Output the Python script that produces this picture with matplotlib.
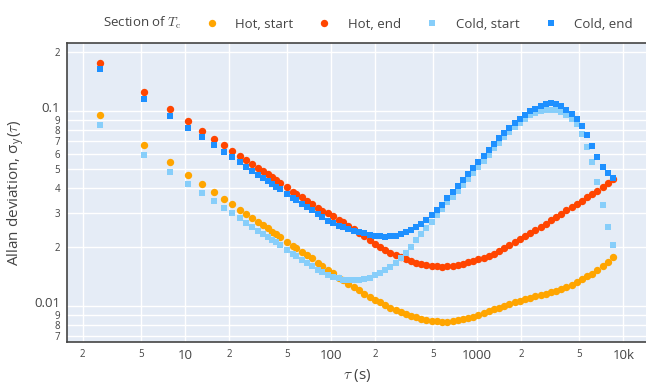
import numpy as np
import matplotlib
matplotlib.use("Agg")
import matplotlib.pyplot as plt
from matplotlib.transforms import ScaledTranslation

plt.rcParams['font.family'] = ['Open Sans', 'DejaVu Sans']
plt.rcParams['mathtext.fontset'] = 'cm'

# averaging factors (tau = m * tau0)
tau0 = 2.63
m = [1, 2, 3, 4, 5, 6, 7, 8, 9, 10, 11, 12, 13, 14, 15, 16, 17,
     19, 21, 22, 24, 26, 28, 31, 33, 36, 39,
     43, 46, 50, 55, 59, 64, 70, 76, 82, 89,
     97, 105, 114, 124, 134, 146, 158, 171, 186, 202,
     219, 238, 258, 280, 303, 329, 357, 387, 420, 456,
     495, 537, 582, 632, 686, 744, 807, 876, 950, 1031,
     1118, 1213, 1316, 1428, 1549, 1681, 1824, 1979, 2147, 2329,
     2527, 2742, 2975, 3228]

hot_start = [0.0951, 0.0668, 0.0544, 0.0470, 0.0419, 0.0382, 0.0354, 0.0331, 0.0311, 0.0295,
             0.0281, 0.0269, 0.0258, 0.0249, 0.0240, 0.0232, 0.0225,
             0.0213, 0.0202, 0.0197, 0.0189, 0.0181, 0.0175, 0.0166, 0.0160, 0.0153, 0.0147,
             0.0139, 0.0135, 0.0129, 0.0124, 0.0120, 0.01153, 0.01110, 0.01075, 0.01042, 0.01011,
             0.00979, 0.00953, 0.00928, 0.00907, 0.00888, 0.00872, 0.00859, 0.00847, 0.00838, 0.00832,
             0.00829, 0.00829, 0.00835, 0.00843, 0.00853, 0.00865, 0.00879, 0.00896, 0.00915, 0.00936,
             0.00957, 0.00979, 0.01001, 0.01023, 0.01042, 0.01061, 0.01080, 0.01099, 0.01117, 0.01135,
             0.01155, 0.01173, 0.01195, 0.01221, 0.01253, 0.01280, 0.01323, 0.01363, 0.01412, 0.01454,
             0.01524, 0.01598, 0.01680, 0.01773]

hot_end = [0.1763, 0.1246, 0.1018, 0.0881, 0.0788, 0.0719, 0.0666, 0.0624, 0.0588, 0.0557,
           0.0531, 0.0509, 0.0489, 0.0471, 0.0455, 0.0441, 0.0428,
           0.0404, 0.0385, 0.0376, 0.0360, 0.0346, 0.0333, 0.0318, 0.0307, 0.0300, 0.0288,
           0.0276, 0.0268, 0.0257, 0.0246, 0.0237, 0.0227, 0.0217, 0.0207, 0.0199, 0.0192,
           0.0186, 0.0182, 0.0177, 0.0173, 0.0169, 0.0166, 0.0164, 0.0161, 0.0160, 0.0159,
           0.0158, 0.0159, 0.0160, 0.0162, 0.0164, 0.0167, 0.0170, 0.0173, 0.0176, 0.0180,
           0.0185, 0.0191, 0.0198, 0.0204, 0.0211, 0.0219, 0.0227, 0.0236, 0.0245, 0.0254,
           0.0264, 0.0275, 0.0286, 0.0297, 0.0309, 0.0321, 0.0333, 0.0346, 0.0360, 0.0374,
           0.0388, 0.0407, 0.0424, 0.0444]

cold_start = [0.0842, 0.0595, 0.0486, 0.0421, 0.0377, 0.0344, 0.0318, 0.0298, 0.0281, 0.0266,
              0.0254, 0.0243, 0.0234, 0.0225, 0.0218, 0.0211, 0.0205,
              0.0193, 0.0184, 0.0180, 0.0172, 0.0166, 0.0160, 0.0152, 0.0149, 0.0144, 0.0141,
              0.0138, 0.0136, 0.0135, 0.0135, 0.0135, 0.0137, 0.0139, 0.0143, 0.0147, 0.0152,
              0.0158, 0.0165, 0.0175, 0.0187, 0.0201, 0.0217, 0.0233, 0.0250, 0.0270, 0.0292,
              0.0315, 0.0339, 0.0363, 0.0388, 0.0417, 0.0447, 0.0480, 0.0514, 0.0552, 0.0595,
              0.0642, 0.0687, 0.0733, 0.0779, 0.0822, 0.0870, 0.0909, 0.0947, 0.0975, 0.0994,
              0.1005, 0.1008, 0.1005, 0.0988, 0.0956, 0.0912, 0.0855, 0.0760, 0.0651, 0.0546,
              0.0431, 0.0328, 0.0254, 0.0205]

cold_end = [0.1631, 0.1152, 0.0940, 0.0814, 0.0729, 0.0666, 0.0615, 0.0576, 0.0543, 0.0515,
            0.0491, 0.0470, 0.0452, 0.0436, 0.0420, 0.0407, 0.0395,
            0.0374, 0.0355, 0.0347, 0.0332, 0.0319, 0.0308, 0.0294, 0.0285, 0.0273, 0.0265,
            0.0257, 0.0252, 0.0247, 0.0242, 0.0239, 0.0235, 0.0231, 0.0229, 0.0227, 0.0226,
            0.0227, 0.0229, 0.0232, 0.0238, 0.0244, 0.0253, 0.0264, 0.0276, 0.0292, 0.0310,
            0.0330, 0.0355, 0.0381, 0.0409, 0.0439, 0.0474, 0.0511, 0.0549, 0.0589, 0.0632,
            0.0679, 0.0724, 0.0773, 0.0820, 0.0865, 0.0907, 0.0951, 0.0991, 0.1026, 0.1057,
            0.1078, 0.1091, 0.1089, 0.1063, 0.1014, 0.0962, 0.0907, 0.0834, 0.0750, 0.0663,
            0.0582, 0.0517, 0.0478, 0.0450]

series = [
    ("Hot, start", hot_start, "#FFA500", "o"),
    ("Hot, end", hot_end, "#FF4500", "o"),
    ("Cold, start", cold_start, "#87CEFA", "s"),
    ("Cold, end", cold_end, "#1E90FF", "s"),
]

tau = tau0 * np.array(m)

fig = plt.figure(figsize=(6.46, 3.86), dpi=100)
# plot area runs to the right edge of the figure
ax = fig.add_axes([67 / 646, 44 / 386, 580 / 646, 299 / 386])
ax.set_facecolor("#E5ECF6")

handles = []
for label, vals, color, marker in series:
    h, = ax.plot(tau, vals, linestyle="none", marker=marker, markersize=5.3 if marker == "o" else 5.0,
                 color=color, markeredgewidth=0, label=label)
    handles.append(h)

ax.set_xscale("log")
ax.set_yscale("log")
ax.set_xlim(1.563, 14500)
ax.set_ylim(0.006515, 0.2225)

# x ticks: 1-2-5 pattern
ax.set_xticks([10, 100, 1000, 10000], ["10", "100", "1000", "10k"])
ax.set_xticks([2, 5, 20, 50, 200, 500, 2000, 5000], ["2", "5"] * 4, minor=True)
# y ticks: every digit
ax.set_yticks([0.01, 0.1], ["0.01", "0.1"])
ymin = [0.007, 0.008, 0.009] + [d / 100 for d in range(2, 10)] + [0.2]
ax.set_yticks(ymin, ["7", "8", "9"] + [str(d) for d in range(2, 10)] + ["2"], minor=True)

ax.tick_params(which="both", length=0, colors="#444444", pad=5)
ax.tick_params(which="major", labelsize=9.5)
ax.tick_params(which="minor", labelsize=7)
# lift the decade labels a little so they clear the small digit below
for lab in ax.get_yticklabels():
    lab.set_transform(lab.get_transform() + ScaledTranslation(0, 2.5 / 72, fig.dpi_scale_trans))
ax.grid(True, which="both", color="white", linewidth=1)
ax.set_axisbelow(True)
for side in ["left", "bottom", "top"]:
    ax.spines[side].set_color("#444444")
    ax.spines[side].set_linewidth(1.2)
ax.spines["right"].set_visible(False)

ax.set_xlabel(r"$\tau$ (s)", fontsize=11, color="#444444", labelpad=4)
ax.set_ylabel(r"Allan deviation, σ$_\mathregular{y}$($\tau$)", fontsize=11, color="#444444", labelpad=6)

fig.text(103 / 646, 1 - 23 / 386, r"Section of $T_\mathrm{c}$", fontsize=9.5, color="#444444",
         ha="left", va="center")
fig.legend(handles=handles, loc="center left", bbox_to_anchor=(205 / 646, 1 - 24 / 386), ncol=4,
           frameon=False, fontsize=9.5, labelcolor="#444444", handlelength=1.0, handletextpad=1.3,
           columnspacing=1.85, borderpad=0, borderaxespad=0)

fig.savefig("out.png", dpi=100)
